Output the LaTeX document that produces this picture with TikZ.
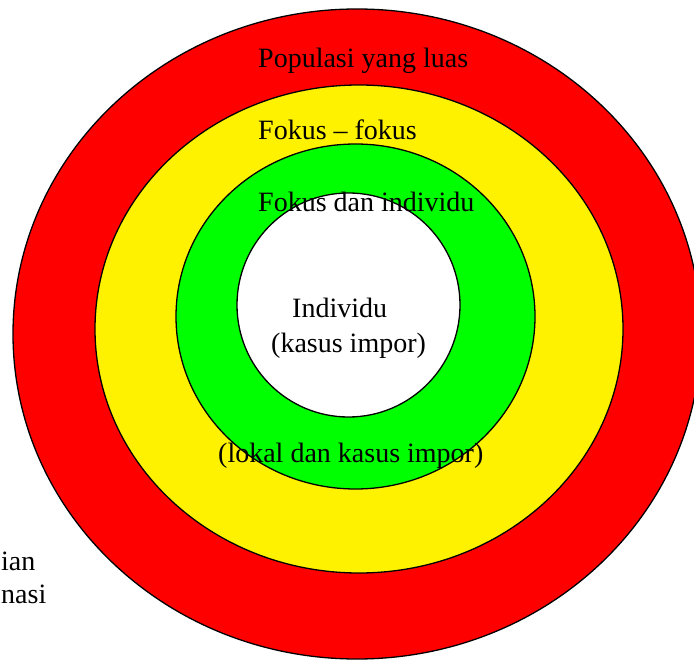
\documentclass[tikz,border=0pt]{standalone}
\usepackage{fontspec}
\setmainfont{Liberation Serif}
\begin{document}
\begin{tikzpicture}[x=1pt,y=-1pt,
  ring/.style={draw=black,line width=1.3pt},
  lbl/.style={anchor=base west,inner sep=0pt,font=\fontsize{28}{32}\selectfont}]
\useasboundingbox (0,0) rectangle (694,660);
\clip (0,0) rectangle (694,660);
\fill[white] (0,0) rectangle (694,660);
\draw[ring,fill=red] (357,334) ellipse [x radius=344pt, y radius=325pt];
\draw[ring,fill=yellow] (359,329) ellipse [x radius=264pt, y radius=244pt];
\draw[ring,fill=green] (355.5,316.5) ellipse [x radius=179.5pt, y radius=172.5pt];
\draw[ring,fill=white] (348.5,305) ellipse [x radius=111.5pt, y radius=112pt];
\node[lbl] (pop) at (258,68) {Populasi yang luas};
\node[lbl] (fok) at (258,140) {Fokus -- fokus};
\node[lbl] (fdi) at (258,212) {Fokus dan individu};
\node[lbl] (ind) at (292,318) {Individu};
\node[lbl] (kas) at (271,353) {(kasus impor)};
\node[lbl] (lok) at (218,462) {(lokal dan kasus impor)};
\node[lbl] (ian) at (1,570) {ian};
\node[lbl] (nasi) at (1,603) {nasi};
\end{tikzpicture}
\end{document}
